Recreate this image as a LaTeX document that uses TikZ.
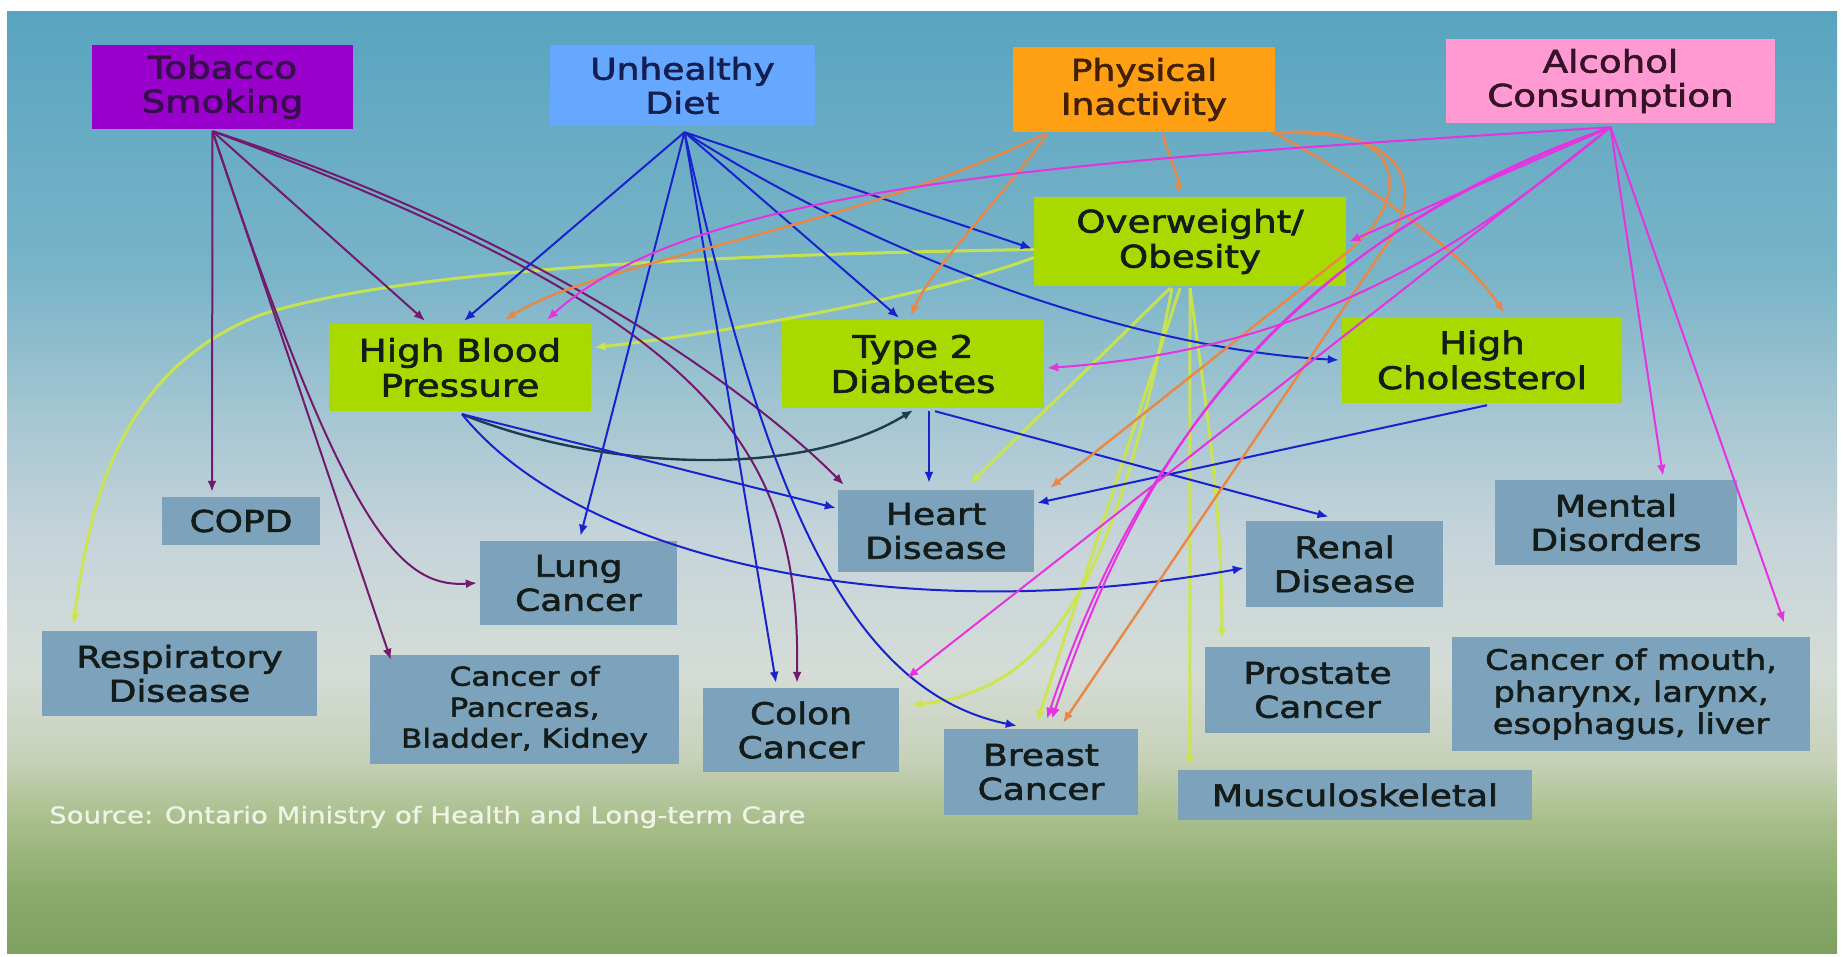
\documentclass[tikz,border=0pt]{standalone}
\usepackage{fontspec}
\setmainfont{DejaVu Sans}[FakeStretch=1.2,FakeBold=2]
\newfontfamily\srcfont{DejaVu Sans}[FakeStretch=1.2,FakeBold=1]
\usetikzlibrary{arrows.meta}
\definecolor{bgA}{RGB}{125,160,96}
\definecolor{bgB}{RGB}{140,172,110}
\definecolor{bgC}{RGB}{168,190,138}
\definecolor{bgD}{RGB}{200,210,186}
\definecolor{bgE}{RGB}{212,220,214}
\definecolor{bgF}{RGB}{198,212,218}
\definecolor{bgG}{RGB}{165,198,210}
\definecolor{bgH}{RGB}{122,180,200}
\definecolor{bgI}{RGB}{88,164,192}
\pgfdeclareverticalshading{bgsh}{100bp}{color(0bp)=(bgA); color(25bp)=(bgA); color(28.5bp)=(bgB); color(32bp)=(bgC); color(35.5bp)=(bgD); color(40bp)=(bgE); color(47bp)=(bgF); color(53.5bp)=(bgG); color(61bp)=(bgH); color(75bp)=(bgI); color(100bp)=(bgI)}
\definecolor{tobfill}{RGB}{153,0,204}
\definecolor{dietfill}{RGB}{102,168,255}
\definecolor{physfill}{RGB}{255,160,20}
\definecolor{alcfill}{RGB}{255,155,210}
\definecolor{limefill}{RGB}{168,218,0}
\definecolor{disfill}{RGB}{124,162,188}
\definecolor{tobtext}{RGB}{55,15,75}
\definecolor{diettext}{RGB}{20,30,80}
\definecolor{phystext}{RGB}{65,32,10}
\definecolor{alctext}{RGB}{55,18,38}
\definecolor{darktext}{RGB}{20,28,25}
\definecolor{srctext}{RGB}{240,244,232}
\definecolor{tobc}{RGB}{115,25,110}
\definecolor{dietc}{RGB}{25,35,205}
\definecolor{darkc}{RGB}{30,60,80}
\definecolor{physc}{RGB}{232,135,70}
\definecolor{alcc}{RGB}{230,50,225}
\definecolor{obesc}{RGB}{205,230,70}
\tikzset{
  box/.style={rectangle, inner sep=0pt, align=center, font=\fontsize{30}{34}\selectfont, text=darktext},
  smallbox/.style={box, font=\fontsize{26}{31}\selectfont},
  disbox/.style={box, fill=disfill},
  limebox/.style={box, fill=limefill, font=\fontsize{31}{35}\selectfont},
  conn/.style={-{Latex[length=11pt,width=9pt]}, line width=2pt},
  tobarr/.style={conn, draw=tobc},
  dietarr/.style={conn, draw=dietc},
  darkarr/.style={conn, draw=darkc, line width=2.4pt},
  physarr/.style={conn, draw=physc, line width=2.4pt},
  alcarr/.style={conn, draw=alcc},
  obesarr/.style={conn, draw=obesc, line width=3pt, draw opacity=0.9}
}
\begin{document}
\begin{tikzpicture}[x=1pt,y=-1pt]
\useasboundingbox (0,0) rectangle (1843,957);
\fill[white] (0,0) rectangle (1843,957);
\shade[shading=bgsh] (7,12) rectangle (1837,953);

% risk factors
\node[box, fill=tobfill, text=tobtext, minimum width=261pt, minimum height=84pt, font=\fontsize{31}{34}\selectfont] (tob) at (222.5,87) {Tobacco\\Smoking};
\node[box, fill=dietfill, text=diettext, minimum width=265pt, minimum height=81pt] (diet) at (682.5,85.5) {Unhealthy\\Diet};
\node[box, fill=physfill, text=phystext, minimum width=262pt, minimum height=85pt] (phys) at (1144,89.5) {Physical\\Inactivity};
\node[box, fill=alcfill, text=alctext, minimum width=329pt, minimum height=84pt, font=\fontsize{31}{34}\selectfont] (alc) at (1610.5,81) {Alcohol\\Consumption};

% intermediate conditions
\node[limebox, minimum width=312pt, minimum height=89pt] (obes) at (1190,241.5) {Overweight/\\Obesity};
\node[limebox, minimum width=262pt, minimum height=87pt] (hbp) at (460,367.5) {High Blood\\Pressure};
\node[limebox, minimum width=262pt, minimum height=88pt] (t2d) at (913,364) {Type 2\\Diabetes};
\node[limebox, minimum width=280pt, minimum height=86pt] (chol) at (1482,360) {High\\Cholesterol};

% diseases
\node[disbox, minimum width=158pt, minimum height=48pt] (copd) at (241,521) {COPD};
\node[disbox, minimum width=196pt, minimum height=82pt] (heart) at (936,531) {Heart\\Disease};
\node[disbox, minimum width=197pt, minimum height=84pt] (lung) at (578.5,583) {Lung\\Cancer};
\node[disbox, minimum width=197pt, minimum height=86pt] (renal) at (1344.5,564) {Renal\\Disease};
\node[disbox, minimum width=242pt, minimum height=85pt] (mental) at (1616,522.5) {Mental\\Disorders};
\node[disbox, minimum width=275pt, minimum height=85pt] (resp) at (179.5,673.5) {Respiratory\\Disease};
\node[disbox, smallbox, minimum width=309pt, minimum height=109pt] (panc) at (524.5,709.5) {Cancer of\\Pancreas,\\Bladder, Kidney};
\node[disbox, minimum width=196pt, minimum height=84pt] (colon) at (801,730) {Colon\\Cancer};
\node[disbox, minimum width=194pt, minimum height=86pt] (breast) at (1041,772) {Breast\\Cancer};
\node[disbox, minimum width=225pt, minimum height=86pt] (prost) at (1317.5,690) {Prostate\\Cancer};
\node[disbox, font=\fontsize{28}{32}\selectfont, minimum width=358pt, minimum height=114pt] (mouth) at (1631,694) {Cancer of mouth,\\pharynx, larynx,\\esophagus, liver};
\node[disbox, minimum width=354pt, minimum height=50pt] (musc) at (1355,795) {Musculoskeletal};

\node[anchor=west, inner sep=0pt, text=srctext, font=\srcfont\fontsize{23}{26}\selectfont] (src) at (49,817) {Source: Ontario Ministry of Health and Long-term Care};

% origins
\coordinate (tobO) at ([xshift=-10pt,yshift=-2pt]tob.south);
\coordinate (dietO) at ([xshift=2pt,yshift=-6pt]diet.south);
\coordinate (hbpO) at ([xshift=2pt,yshift=-3pt]hbp.south);
\coordinate (alcO) at ([yshift=-4pt]alc.south);

% Obesity (lime)
\draw[obesarr] ([yshift=-16pt]obes.west) .. controls (950,290) and (750,330) .. ([xshift=3pt,yshift=20pt]hbp.east);
\draw[obesarr] ([yshift=-8pt]obes.west) .. controls (700,255) and (400,270) .. (260,315) .. controls (120,370) and (90,500) .. ([xshift=-106pt,yshift=6pt]resp.north);
\draw[obesarr] ([xshift=-20pt,yshift=-2pt]obes.south) -- ([xshift=34pt,yshift=6pt]heart.north);
\draw[obesarr] ([xshift=-18pt,yshift=-2pt]obes.south) .. controls (1120,560) and (1060,690) .. ([xshift=12pt,yshift=25pt]colon.east);
\draw[obesarr] ([xshift=-10pt,yshift=-2pt]obes.south) -- ([xshift=-4pt,yshift=7pt]breast.north);
\draw[obesarr] ([yshift=-2pt]obes.south) .. controls (1205,400) and (1222,500) .. ([xshift=17pt,yshift=8pt]prost.north west);
\draw[obesarr] ([yshift=-2pt]obes.south) -- ([xshift=12pt,yshift=4pt]musc.north west);

% Tobacco
\draw[tobarr] (tobO) -- ([xshift=-29pt,yshift=5pt]copd.north);
\draw[tobarr] (tobO) -- ([xshift=-35pt,yshift=3pt]hbp.north);
\draw[tobarr] (tobO) .. controls (345,530) and (400,588) .. ([xshift=-3pt]lung.west);
\draw[tobarr] (tobO) -- ([xshift=21pt,yshift=-5pt]panc.north west);
\draw[tobarr] (tobO) .. controls (550,240) and (760,400) .. ([xshift=6pt,yshift=5pt]heart.north west);
\draw[tobarr] (tobO) .. controls (720,320) and (800,450) .. ([xshift=-4pt,yshift=5pt]colon.north);

% Unhealthy diet
\draw[dietarr] (dietO) -- ([xshift=4pt,yshift=3pt]hbp.north);
\draw[dietarr] (dietO) -- ([xshift=2pt,yshift=5pt]lung.north);
\draw[dietarr] (dietO) -- ([xshift=-25pt,yshift=5pt]colon.north);
\draw[dietarr] (dietO) .. controls (760,470) and (840,690) .. ([xshift=73pt,yshift=3pt]breast.north west);
\draw[dietarr] (dietO) -- ([xshift=-14pt,yshift=2pt]t2d.north);
\draw[dietarr] (dietO) -- ([xshift=-2pt,yshift=-7pt]obes.west);
\draw[dietarr] (dietO) .. controls (900,270) and (1150,350) .. ([xshift=-3pt]chol.west);

% High blood pressure
\draw[darkarr] (hbpO) .. controls (600,470) and (800,480) .. ([yshift=-2pt]t2d.south);
\draw[dietarr] (hbpO) -- ([xshift=-2pt,yshift=23pt]heart.west);
\draw[dietarr] (hbpO) .. controls (580,560) and (900,630) .. ([xshift=-2pt,yshift=-4pt]renal.west);

% Type 2 diabetes
\draw[dietarr] ([xshift=16pt,yshift=-3pt]t2d.south) -- ([xshift=-7pt,yshift=7pt]heart.north);
\draw[dietarr] ([xshift=22pt,yshift=-3pt]t2d.south) -- ([xshift=-16pt,yshift=4pt]renal.north);

% High cholesterol
\draw[dietarr] ([xshift=5pt,yshift=-2pt]chol.south) -- ([xshift=3pt,yshift=28pt]heart.east);

% Physical inactivity
\draw[physarr] ([xshift=-100pt,yshift=-2pt]phys.south) .. controls (850,230) and (600,260) .. ([xshift=45pt,yshift=4pt]hbp.north);
\draw[physarr] ([xshift=-97pt,yshift=-2pt]phys.south) .. controls (1000,200) and (930,270) .. ([xshift=-2pt,yshift=4pt]t2d.north);
\draw[physarr] ([xshift=19pt,yshift=-2pt]phys.south) .. controls (1170,160) and (1178,175) .. ([xshift=-11pt,yshift=3pt]obes.north);
\draw[physarr] ([xshift=131pt,yshift=-1pt]phys.south) .. controls (1380,190) and (1470,260) .. ([xshift=22pt,yshift=4pt]chol.north);
\draw[physarr] ([xshift=128pt,yshift=-1pt]phys.south) .. controls (1415,120) and (1410,200) .. (1350,250) -- ([xshift=16pt,yshift=2pt]heart.north east);
\draw[physarr] ([xshift=134pt,yshift=-1pt]phys.south) .. controls (1425,128) and (1420,200) .. (1383,250) -- ([xshift=22pt,yshift=6pt]breast.north);

% Alcohol
\draw[alcarr] (alcO) .. controls (1100,160) and (700,180) .. ([xshift=87pt,yshift=4pt]hbp.north);
\draw[alcarr] (alcO) -- ([xshift=3pt]obes.east);
\draw[alcarr] (alcO) .. controls (1450,260) and (1300,350) .. ([xshift=3pt,yshift=-4pt]t2d.east);
\draw[alcarr] (alcO) -- ([xshift=8pt,yshift=10pt]colon.north east);
\draw[alcarr] (alcO) .. controls (1290,245) and (1150,430) .. ([xshift=11pt,yshift=10pt]breast.north);
\draw[alcarr] (alcO) .. controls (1310,230) and (1140,440) .. ([xshift=6pt,yshift=10pt]breast.north);
\draw[alcarr] (alcO) -- ([xshift=47pt,yshift=4pt]mental.north);
\draw[alcarr] (alcO) -- ([xshift=-26pt,yshift=14pt]mouth.north east);
\end{tikzpicture}
\end{document}
